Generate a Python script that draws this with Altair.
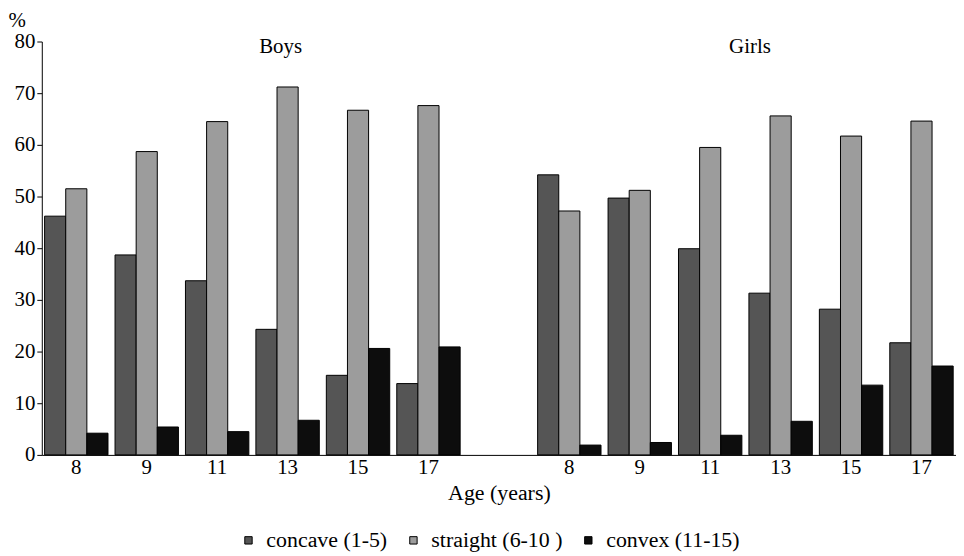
import altair as alt
import pandas as pd

ages = ["8", "9", "11", "13", "15", "17"]
series = ["concave (1-5)", "straight (6-10 )", "convex (11-15)"]
boys_concave = [46.2, 38.7, 33.7, 24.3, 15.4, 13.8]
boys_straight = [51.5, 58.7, 64.5, 71.2, 66.7, 67.6]
boys_convex = [4.2, 5.4, 4.5, 6.7, 20.6, 20.9]
girls_concave = [54.2, 49.7, 39.9, 31.3, 28.2, 21.7]
girls_straight = [47.2, 51.2, 59.5, 65.6, 61.7, 64.6]
girls_convex = [1.9, 2.4, 3.8, 6.5, 13.5, 17.2]
colors = ["#555555", "#9c9c9c", "#0d0d0d"]

slots = ["B" + a for a in ages] + ["gap"] + ["G" + a for a in ages]

rows = []
for prefix, vals in (("B", (boys_concave, boys_straight, boys_convex)),
                     ("G", (girls_concave, girls_straight, girls_convex))):
    for s, arr in zip(series, vals):
        for a, v in zip(ages, arr):
            rows.append({"slot": prefix + a, "series": s, "value": v})
df = pd.DataFrame(rows)

FONT = "Liberation Serif"

x_enc = alt.X(
    "slot:N",
    sort=slots,
    scale=alt.Scale(domain=slots, paddingInner=0.1, paddingOuter=0.04),
    axis=alt.Axis(
        title="Age (years)",
        labelExpr="datum.value == 'gap' ? '' : substring(datum.value, 1)",
        labelAngle=0,
        ticks=False,
        labelPadding=2,
        labelFont=FONT, labelFontSize=21, labelColor="black",
        titleFont=FONT, titleFontSize=22, titleFontWeight="normal", titleColor="black",
        titlePadding=5,
        domainColor="black",
    ),
)

bars = alt.Chart(df).mark_bar(stroke="black", strokeWidth=1).encode(
    x=x_enc,
    xOffset=alt.XOffset("series:N", sort=series, scale=alt.Scale(paddingInner=0)),
    y=alt.Y(
        "value:Q",
        scale=alt.Scale(domain=[0, 80], nice=False),
        axis=alt.Axis(
            values=list(range(0, 81, 10)),
            grid=False,
            tickSize=5, tickColor="black", domainColor="black",
            labelFont=FONT, labelFontSize=21, labelColor="black", labelPadding=2,
            title="%", titleAngle=0, titleX=-34, titleY=-21,
            titleAlign="left", titleBaseline="middle",
            titleFont=FONT, titleFontSize=21, titleFontWeight="normal", titleColor="black",
        ),
    ),
    color=alt.Color(
        "series:N",
        sort=series,
        scale=alt.Scale(domain=series, range=colors),
        legend=alt.Legend(
            title=None, orient="none", direction="horizontal",
            legendX=197, legendY=491,
            symbolType="square", symbolSize=55, symbolStrokeColor="black",
            symbolStrokeWidth=1,
            labelFont=FONT, labelFontSize=22, labelColor="black",
            columnPadding=15, labelOffset=7,
        ),
    ),
)

titles_df = pd.DataFrame({"slot": ["B13", "G11"], "label": ["Boys", "Girls"],
                          "yv": [79, 79]})
boys_t = alt.Chart(titles_df.iloc[[0]]).mark_text(
    font=FONT, fontSize=21, color="black", baseline="middle", dx=-7
).encode(x=alt.X("slot:N", sort=slots), y=alt.Y("yv:Q"), text="label:N")
girls_t = alt.Chart(titles_df.iloc[[1]]).mark_text(
    font=FONT, fontSize=21, color="black", baseline="middle", dx=40
).encode(x=alt.X("slot:N", sort=slots), y=alt.Y("yv:Q"), text="label:N")

chart = alt.layer(bars, boys_t, girls_t).properties(
    width=920, height=416, background="white",
    padding={"left": 0, "top": 0, "right": 0, "bottom": 0}
).configure_view(stroke=None).configure_text(font=FONT).configure_axis(
    labelFont=FONT, titleFont=FONT
).configure_legend(labelFont=FONT)

chart.save("out.html", embed_options={"renderer": "svg", "actions": False})
